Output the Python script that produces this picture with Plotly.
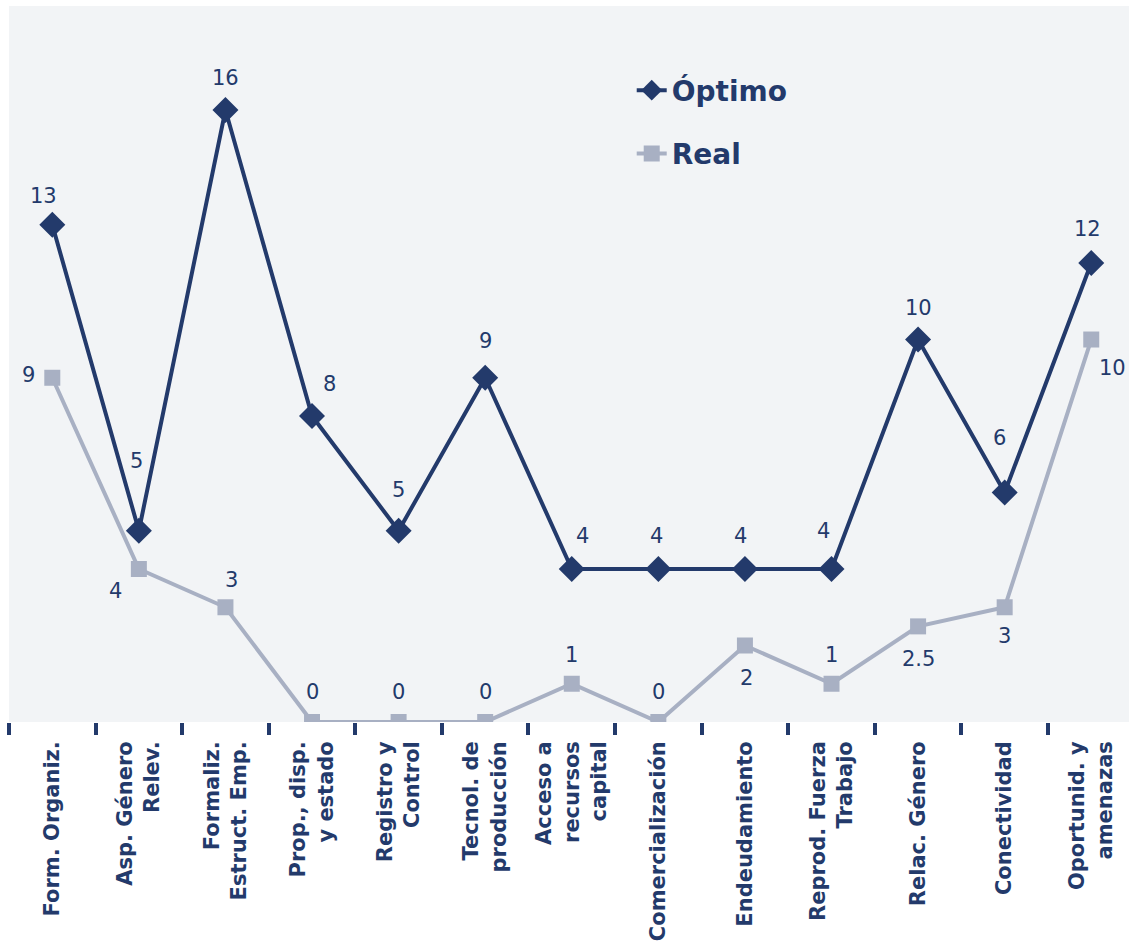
import plotly.graph_objects as go

# Categories along the x axis (multi-line labels)
categories = [
    "Form. Organiz.",
    "Asp. Género<br>Relev.",
    "Formaliz.<br>Estruct. Emp.",
    "Prop., disp.<br>y estado",
    "Registro y<br>Control",
    "Tecnol. de<br>producción",
    "Acceso a<br>recursos<br>capital",
    "Comercialización",
    "Endeudamiento",
    "Reprod. Fuerza<br>Trabajo",
    "Relac. Género",
    "Conectividad",
    "Oportunid. y<br>amenazas",
]

optimo = [13, 5, 16, 8, 5, 9, 4, 4, 4, 4, 10, 6, 12]
real = [9, 4, 3, 0, 0, 0, 1, 0, 2, 1, 2.5, 3, 10]

# Pixel offsets (dx, dy) of each value label relative to its marker
optimo_label_offsets = [(-9, 29), (-2, 70), (0, 32), (17, 32), (0, 41), (0, 37),
                        (11, 33), (-2, 33), (-4, 33), (-8, 38), (0, 32), (-5, 55), (-4, 34)]
real_label_offsets = [(-24, 3), (-23, -22), (6, 27), (0, 30), (0, 30), (0, 30),
                      (0, 29), (0, 30), (2, -32), (0, 29), (0, -33), (0, -29), (21, -28)]

NAVY = "#233a6b"
GREY = "#a8b0c3"
FONT = "DejaVu Sans, Verdana, sans-serif"

fig = go.Figure()
fig.add_trace(go.Scatter(
    x=categories, y=optimo, name="Óptimo", mode="lines+markers",
    line=dict(color=NAVY, width=4),
    marker=dict(symbol="diamond", size=20, color=NAVY),
    legendgroup="a",
))
fig.add_trace(go.Scatter(
    x=categories, y=real, name="Real", mode="lines+markers",
    line=dict(color=GREY, width=4),
    marker=dict(symbol="square", size=16, color=GREY),
    legendgroup="b",
))


def fmt(v):
    return str(int(v)) if float(v).is_integer() else str(v)


for vals, offs in ((optimo, optimo_label_offsets), (real, real_label_offsets)):
    for cat, v, (dx, dy) in zip(categories, vals, offs):
        fig.add_annotation(
            x=cat, y=v, text=fmt(v), showarrow=False,
            xshift=dx, yshift=dy,
            font=dict(family=FONT, size=21, color=NAVY),
        )

fig.update_layout(
    width=1129, height=946,
    margin=dict(l=9, r=0, t=6, b=224),
    paper_bgcolor="white",
    plot_bgcolor="#f2f4f6",
    font=dict(family=FONT, color=NAVY),
    showlegend=True,
    legend=dict(
        x=0.556, y=0.917, xanchor="left", yanchor="top",
        bgcolor="rgba(0,0,0,0)",
        font=dict(family=FONT, size=28, color=NAVY, weight="bold"),
        traceorder="grouped", tracegroupgap=24,
    ),
)

fig.update_xaxes(
    type="category",
    range=[-0.5, 12.436],
    tickangle=-90,
    tickfont=dict(family=FONT, size=21, color=NAVY, weight="bold"),
    ticks="outside", ticklen=12, tickwidth=4, tickcolor=NAVY,
    tickson="boundaries",
    ticklabelstandoff=14,
    showgrid=False, zeroline=False, showline=False,
)
fig.update_yaxes(
    range=[0, 18.72],
    showticklabels=False, showgrid=False, zeroline=False, showline=False,
    ticks="",
)

fig.write_html("out.html")
